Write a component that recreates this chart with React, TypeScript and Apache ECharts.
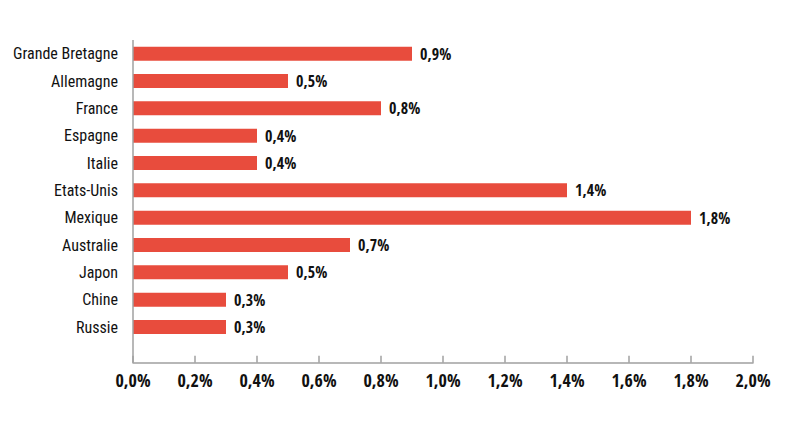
import React, { useEffect, useRef } from "react";
import * as echarts from "echarts";

const categories = [
  "Grande Bretagne",
  "Allemagne",
  "France",
  "Espagne",
  "Italie",
  "Etats-Unis",
  "Mexique",
  "Australie",
  "Japon",
  "Chine",
  "Russie",
];
const values = [0.9, 0.5, 0.8, 0.4, 0.4, 1.4, 1.8, 0.7, 0.5, 0.3, 0.3];
const xMin = 0;
const xMax = 2.0;
const xInterval = 0.2;

const fmt = (v: number) => v.toFixed(1).replace(".", ",") + "%";
const FONT_REG = "'Roboto Condensed', 'DejaVu Sans', sans-serif";
const FONT_BOLD = "'Open Sans Condensed', 'Roboto Condensed', sans-serif";

export default function App() {
  const ref = useRef<HTMLDivElement>(null);
  useEffect(() => {
    if (!ref.current) return;
    const chart = echarts.init(ref.current, undefined, { renderer: "svg" });
    const gridLeft = 133;
    const gridTop = 40;
    const gridWidth = 620;
    const gridHeight = 300.7;
    const axisOffset = 22;
    chart.setOption({
      animation: false,
      backgroundColor: "#ffffff",
      grid: { left: gridLeft, top: gridTop, width: gridWidth, height: gridHeight },
      xAxis: {
        type: "value",
        min: xMin,
        max: xMax,
        interval: xInterval,
        offset: axisOffset,
        splitLine: { show: false },
        axisLine: { show: true, lineStyle: { color: "#a0a0a0", width: 1.5 } },
        axisTick: { show: true, inside: true, length: 7, lineStyle: { color: "#a0a0a0", width: 1.5 } },
        axisLabel: {
          formatter: (v: number) => fmt(v),
          fontFamily: FONT_BOLD,
          fontWeight: "bold",
          fontSize: 18,
          color: "#111",
          margin: 8,
        },
      },
      yAxis: {
        type: "category",
        data: categories,
        inverse: true,
        axisLine: { show: false },
        axisTick: { show: false },
        axisLabel: {
          fontFamily: FONT_REG,
          fontSize: 16,
          color: "#111",
          margin: 15,
        },
      },
      graphic: [
        {
          type: "line",
          shape: { x1: gridLeft, y1: gridTop, x2: gridLeft, y2: gridTop + gridHeight + axisOffset },
          style: { stroke: "#a0a0a0", lineWidth: 1.5 },
          z: 10,
        },
      ],
      series: [
        {
          type: "bar",
          data: values,
          barWidth: 14,
          itemStyle: { color: "#e84c3d" },
          label: {
            show: true,
            position: "right",
            distance: 8,
            formatter: (p: any) => fmt(p.value),
            fontFamily: FONT_BOLD,
            fontWeight: "bold",
            fontSize: 16,
            color: "#111",
          },
        },
      ],
    });
    return () => chart.dispose();
  }, []);
  return (
    <div
      ref={ref}
      style={{ position: "absolute", left: 0, top: 0, width: 800, height: 433 }}
    />
  );
}
